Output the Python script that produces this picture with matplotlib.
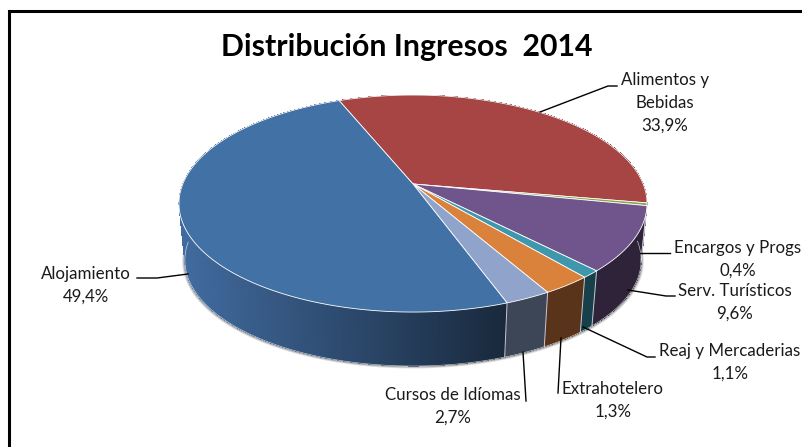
import numpy as np
import matplotlib
matplotlib.use("Agg")
from matplotlib import pyplot as plt

# clockwise from the red slice. orange is drawn bigger than its printed label
slice_names = ["Alimentos y\nBebidas", "Encargos y Progs", "Serv. Turísticos", "Reaj y Mercaderias",
               "Extrahotelero", "Cursos de Idíomas", "Alojamiento"]
slice_sizes = [33.9, 0.4, 9.6, 1.1, 2.9, 2.7, 49.4]
printed = ["33,9%", "0,4%", "9,6%", "1,1%", "1,3%", "2,7%", "49,4%"]
top_colors = ["#a64543", "#8aa64c", "#70548c", "#3f97ad", "#da813b", "#8fa3cb", "#4271a5"]
wall_colors = ["#5a2524", "#4b5a29", "#2e2339", "#17404b", "#59341a", "#3d4656", "#2a4565"]

label_pos = [(665, 103), (738, 259), (735, 302), (730, 362), (613, 400), (453, 406), (86, 285)]
leaders = [[(540, 112), (608, 86), (617, 86)],
           [(640, 253), (670, 253)],
           [(628, 290), (666, 296), (675, 296)],
           [(583, 327), (647, 357), (655, 357)],
           [(561, 338), (558, 393)],
           [(523, 352), (526, 401)],
           [(188, 274), (157, 278), (137, 278)]]

plt.rcParams["font.family"] = ["Lato", "DejaVu Sans"]

cx, apex_y = 413, 184
s, t, k = 230.2, 105.0, 0.18
wall_scale, base_y = 0.975, 241.2


def project(ang, scale=1.0, y0=apex_y):
    u, v = np.cos(ang), np.sin(ang)
    return cx + scale * s * u / (1 + k * v), y0 - scale * t * v / (1 + k * v)


def shade(hex_col, f):
    rgb = np.array(matplotlib.colors.to_rgb(hex_col))
    return tuple(np.clip(rgb * f, 0, 1))


fig = plt.figure(figsize=(8.03, 4.47), dpi=100)
ax = fig.add_axes([0, 0, 1, 1])
ax.set_xlim(0, 803)
ax.set_ylim(447, 0)
ax.axis("off")

# frame, only left and top are inside the picture
ax.plot([9, 9, 803], [447, 10.5, 10.5], color="black", lw=2.2, solid_joinstyle="miter")

ax.text(407, 47, "Distribución Ingresos  2014", ha="center", va="center",
        fontsize=21.8, fontweight="bold", color="black")

shares = np.array(slice_sizes) / sum(slice_sizes) * 2 * np.pi
edges = np.radians(112) - np.concatenate([[0], np.cumsum(shares)])

# soft shadow under the wall
full = np.linspace(0, 2 * np.pi, 360)
for off, a in [(2.5, 0.18), (1.5, 0.3)]:
    sx, sy = project(full, wall_scale + off / 230, base_y + off * 0.4)
    ax.fill(sx, sy, color="#404040", alpha=a, lw=0, zorder=1)

# side walls, split in thin strips so the big slice can carry its gradient
for i in range(len(slice_sizes)):
    steps = max(2, int(np.degrees(edges[i] - edges[i + 1]) / 1.0))
    angs = np.linspace(edges[i], edges[i + 1], steps + 1)
    for a0, a1 in zip(angs[:-1], angs[1:]):
        # strips overlap a little so no seams show
        over = a1 - 0.6 * (a0 - a1)
        xt, yt = project(np.array([a0, max(over, edges[i + 1])]))
        xb, yb = project(np.array([max(over, edges[i + 1]), a0]), wall_scale, base_y)
        col = wall_colors[i]
        if i == len(slice_sizes) - 1:
            mid = (xt.mean() - 179) / (506 - 179)
            col = shade("#416b9f", 1 - 0.62 * np.clip(mid, 0, 1))
        ax.fill(np.r_[xt, xb], np.r_[yt, yb], color=col, lw=0, antialiased=False, zorder=2)
    # white seam between wall pieces
    xa, ya = project(edges[i + 1])
    xc, yc = project(edges[i + 1], wall_scale, base_y)
    if np.sin(edges[i + 1]) < 0:
        ax.plot([xa, xc], [ya, yc], color="#c8c8d0", lw=0.7, zorder=3)

# bottom rim
x_rim, y_rim = project(full, wall_scale, base_y)
keep = np.sin(full) < 0
ax.plot(x_rim[keep], y_rim[keep], color="white", lw=0.5, alpha=0.7, zorder=3)

# top face
for i in range(len(slice_sizes)):
    angs = np.linspace(edges[i], edges[i + 1], 200)
    x, y = project(angs)
    ax.fill(np.r_[cx, x], np.r_[apex_y, y], color=top_colors[i], ec="white", lw=0.6, zorder=4)

# leader lines and labels
for path, name, pct, (lx, ly) in zip(leaders, slice_names, printed, label_pos):
    xs, ys = zip(*path)
    ax.plot(xs, ys, color="black", lw=1.0, zorder=5)
    ax.text(lx, ly, name + "\n" + pct, ha="center", va="center", fontsize=12.2,
            color="#1a1a1a", linespacing=1.5, zorder=6)

fig.savefig("out.png", dpi=100)
